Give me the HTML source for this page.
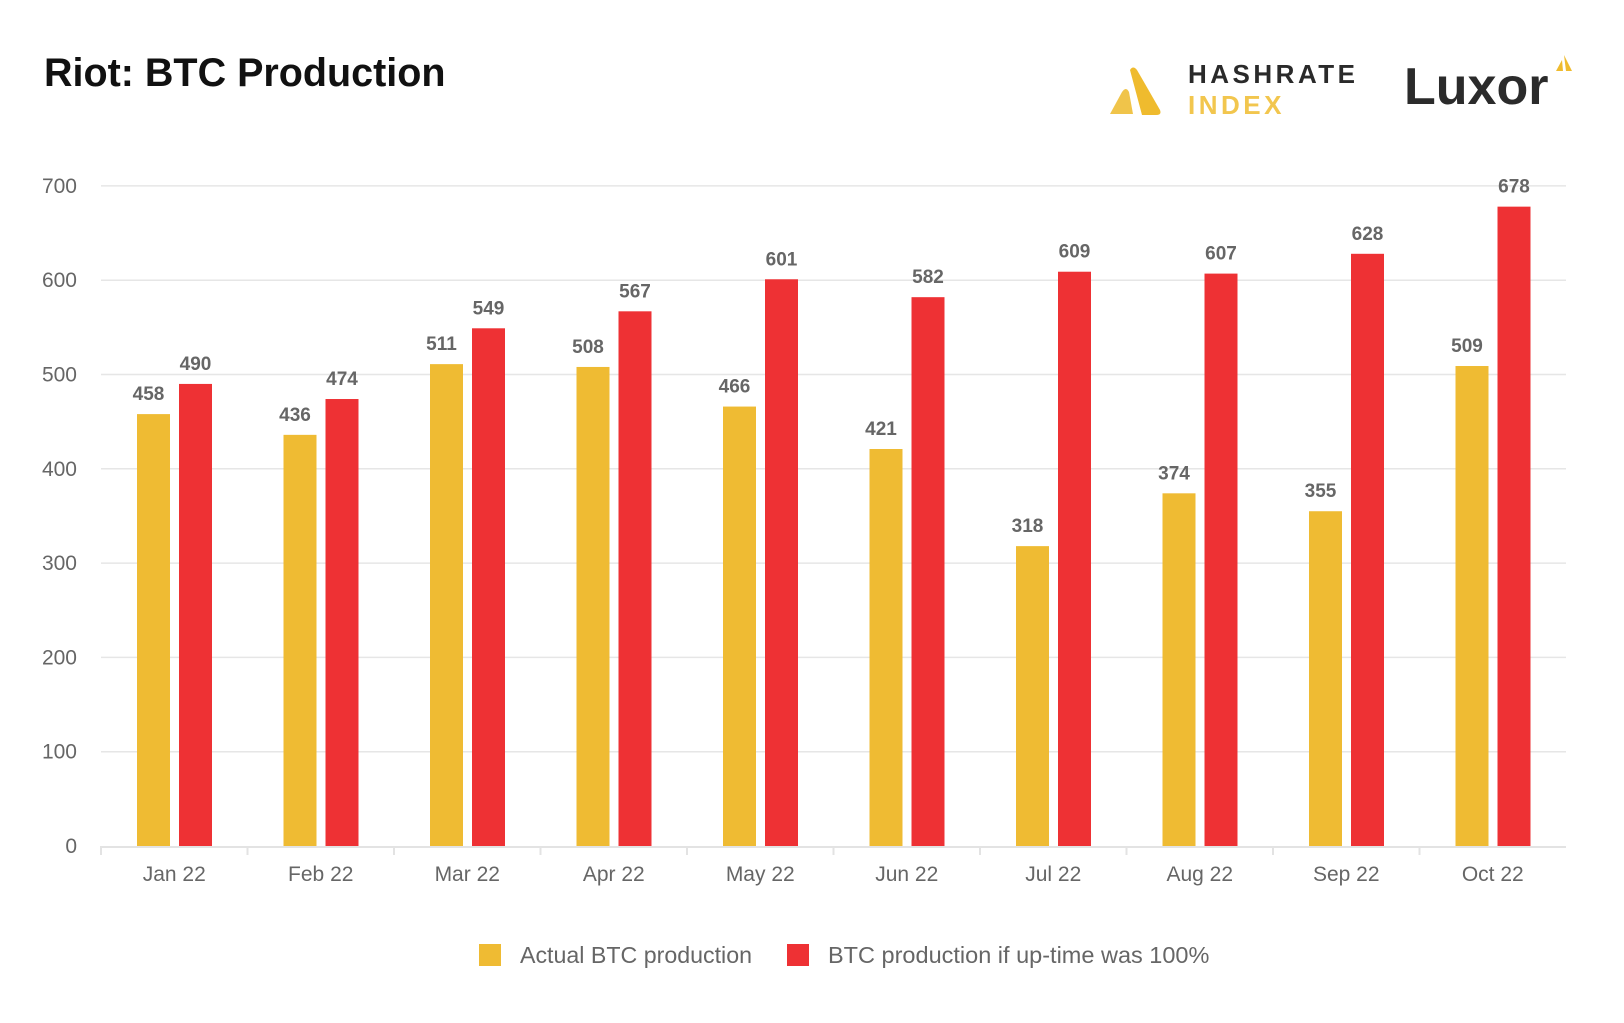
<!DOCTYPE html>
<html><head><meta charset="utf-8">
<style>
body{margin:0;background:#fff;width:1624px;height:1018px;overflow:hidden;font-family:"Liberation Sans",sans-serif}
</style></head>
<body>
<svg id="chart" width="1624" height="1018" xmlns="http://www.w3.org/2000/svg" font-family="Liberation Sans, sans-serif">
<text x="44" y="86" font-size="39.5" font-weight="bold" fill="#111">Riot: BTC Production</text>
<g>
<path d="M1110,114 L1122,92 Q1126,86 1129,92 L1133,114 Z" fill="#f0c44a"/>
<path d="M1130,70 Q1133,65 1137,70 L1160,110 Q1162,115 1156,115 L1142,115 Z" fill="#efbb2e"/>
<text x="1188" y="83" font-size="26" font-weight="bold" fill="#2a2a2a" letter-spacing="3.5">HASHRATE</text>
<text x="1188" y="114" font-size="26" font-weight="bold" fill="#f2c64e" letter-spacing="3.5">INDEX</text>
</g>
<g>
<text x="1404" y="104" font-size="52" font-weight="bold" fill="#2b2b2b">Luxor</text>
<path d="M1556,71 L1562,60 L1563,71 Z M1564,55 L1572,71 L1566,71 Z" fill="#efbb2e"/>
</g>
<g id="grid"></g><g id="bars"></g><g id="axes"></g>
<g>
<rect x="479" y="944" width="22" height="22" fill="#efbb33"/>
<text x="520" y="963" font-size="23.2" fill="#666">Actual BTC production</text>
<rect x="787" y="944" width="22" height="22" fill="#ee3134"/>
<text x="828" y="963" font-size="23.5" fill="#666">BTC production if up-time was 100%</text>
</g>
</svg>
<script>
const categories=["Jan 22","Feb 22","Mar 22","Apr 22","May 22","Jun 22","Jul 22","Aug 22","Sep 22","Oct 22"];
const actual=[458,436,511,508,466,421,318,374,355,509];
const uptime=[490,474,549,567,601,582,609,607,628,678];
const yTicks=[0,100,200,300,400,500,600,700];
const NS="http://www.w3.org/2000/svg";
const x0=101,x1=1566,base=846,k=0.943;
const step=(x1-x0)/categories.length;
const y=v=>base-v*k;
function mk(t,a,p){const e=document.createElementNS(NS,t);for(const q in a)e.setAttribute(q,a[q]);p.appendChild(e);return e;}
const g=document.getElementById('grid'),b=document.getElementById('bars'),ax=document.getElementById('axes');
yTicks.forEach(v=>{
 if(v>0){const l=mk('line',{x1:x0,x2:x1,y1:y(v),y2:y(v),stroke:'#e6e6e6','stroke-width':1.5},g);
 
 }
 const t=mk('text',{x:77,y:y(v)+7,'text-anchor':'end','font-size':21,fill:'#666'},ax);t.textContent=v;
 
 
});
const bl=mk('line',{x1:x0,x2:x1,y1:base+1,y2:base+1,stroke:'#e3e3e3','stroke-width':2},ax);


categories.forEach((c,i)=>{
 const cx=x0+i*step;
 const tk=mk('line',{x1:cx,x2:cx,y1:base,y2:base+9,stroke:'#e3e3e3','stroke-width':2},ax);
 
 
 const t=mk('text',{x:cx+step/2,y:base+35,'text-anchor':'middle','font-size':21,fill:'#666'},ax);t.textContent=c;
 
 
 [[actual,'#efbb33',36,'actual'],[uptime,'#ee3134',78,'uptime']].forEach(([arr,col,off,nm])=>{
  const v=arr[i];
  const r=mk('rect',{x:cx+off,y:y(v),width:33,height:v*k,fill:col},b);
  
  
  const tl=mk('text',{x:cx+off+16.5-(nm==='actual'?5:0),y:y(v)-14,'text-anchor':'middle','font-size':19,'font-weight':'bold',fill:'#666'},b);tl.textContent=v;
  
  
 });
});
</script>
</body></html>
